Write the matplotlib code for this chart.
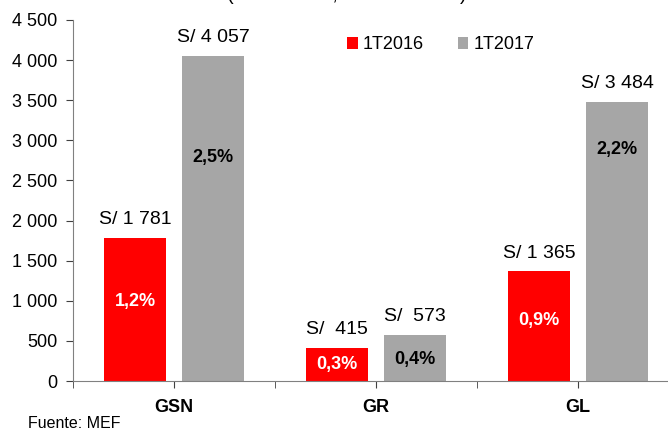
import numpy as np
import matplotlib.pyplot as plt

plt.rcParams['font.family'] = ['Liberation Sans', 'DejaVu Sans']

# data
categories = ['GSN', 'GR', 'GL']
series = ['1T2016', '1T2017']
vals_2016 = [1781, 415, 1365]
vals_2017 = [4057, 573, 3484]
labels_2016 = ['S/ 1 781', 'S/  415', 'S/ 1 365']
labels_2017 = ['S/ 4 057', 'S/  573', 'S/ 3 484']
pct_2016 = ['1,2%', '0,3%', '0,9%']
pct_2017 = ['2,5%', '0,4%', '2,2%']
# where the % labels sit (data units)
pct_y_2016 = [985, 200, 750]
pct_y_2017 = [2780, 262, 2880]
yticks = [0, 500, 1000, 1500, 2000, 2500, 3000, 3500, 4000, 4500]

red = '#ff0000'
gray = '#a6a6a6'

fig = plt.figure(figsize=(6.68, 4.28), dpi=100)
# axis runs past the right edge like the original crop
ax = fig.add_axes([73 / 668, 47 / 428, 606 / 668, 361 / 428])

x = np.arange(len(categories))
w = 0.307
off = 0.193
ax.bar(x - off, vals_2016, w, color=red, label=series[0])
ax.bar(x + off, vals_2017, w, color=gray, label=series[1])

for i in range(len(categories)):
    ax.text(x[i] - off, vals_2016[i] + 120, labels_2016[i], ha='center', va='bottom', fontsize=14)
    ax.text(x[i] + off, vals_2017[i] + 120, labels_2017[i], ha='center', va='bottom', fontsize=14)
    ax.text(x[i] - off, pct_y_2016[i], pct_2016[i], ha='center', va='center',
            fontsize=13, fontweight='bold', color='white')
    ax.text(x[i] + off, pct_y_2017[i], pct_2017[i], ha='center', va='center',
            fontsize=13, fontweight='bold', color='black')

ax.set_xlim(-0.5, 2.5)
ax.set_ylim(0, 4500)
ax.set_yticks(yticks)
ax.set_yticklabels([f'{v:,}'.replace(',', ' ') for v in yticks], fontsize=13)
ax.set_xticks(x)
ax.set_xticklabels(categories, fontsize=13, fontweight='bold')
ax.set_xticks(np.arange(-0.5, 3.0, 1.0), minor=True)
ax.tick_params(axis='x', which='both', direction='out', length=5, pad=8, color='#404040')
ax.tick_params(axis='y', direction='out', length=5, pad=6, color='#404040')

for s in ['top', 'right']:
    ax.spines[s].set_visible(False)
ax.spines['left'].set_color('#808080')
ax.spines['bottom'].set_color('#808080')

ax.legend(loc='upper left', bbox_to_anchor=(0.425, 1.0), ncol=2, frameon=False,
          fontsize=13, handlelength=0.6, handleheight=0.6, handletextpad=0.3,
          columnspacing=1.85)

# title sits mostly above the crop, as in the reference
fig.text(227 / 668, 1.0, '(S/ millones, en % del PBI)', fontsize=14.5, va='baseline')
fig.text(28 / 668, 1 - 416 / 428, 'Fuente: MEF', fontsize=11.5, va='top')

fig.savefig('out.png', dpi=100)
